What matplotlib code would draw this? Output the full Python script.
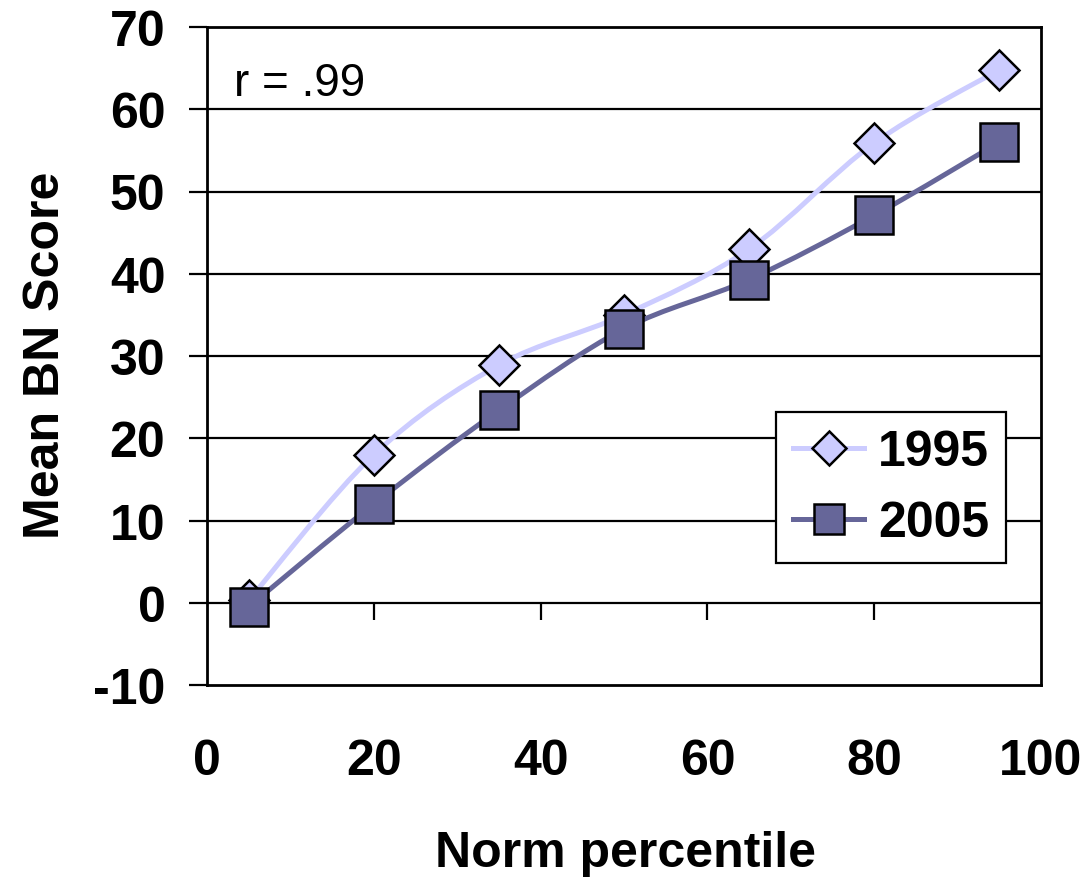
import matplotlib
matplotlib.use("Agg")
import matplotlib.pyplot as plt
from matplotlib.path import Path
from matplotlib.patches import PathPatch
from matplotlib.lines import Line2D
import numpy as np

percentiles = [5, 20, 35, 50, 65, 80, 95]
scores_1995 = [0.3, 18.0, 28.9, 35.0, 43.0, 55.9, 64.8]
scores_2005 = [-0.5, 12.0, 23.4, 33.3, 39.3, 47.1, 56.0]
series_labels = ["1995", "2005"]
x_ticks = [0, 20, 40, 60, 80, 100]
y_ticks = [-10, 0, 10, 20, 30, 40, 50, 60, 70]

plt.rcParams['font.family'] = ['Liberation Sans', 'DejaVu Sans']

fig = plt.figure(figsize=(10.87, 8.78), dpi=100)
ax = fig.add_axes([207/1087, 1-686/878, (1041-207)/1087, (686-28)/878])
ax.set_xlim(0, 100)
ax.set_ylim(-10, 70)


def smooth_path(xs, ys):
    pts = np.column_stack([xs, ys]).astype(float)
    n = len(pts)
    verts = [pts[0]]
    codes = [Path.MOVETO]
    for i in range(n - 1):
        p0 = pts[i - 1] if i > 0 else pts[i]
        p1 = pts[i]
        p2 = pts[i + 1]
        p3 = pts[i + 2] if i + 2 < n else pts[i + 1]
        c1 = p1 + (p2 - p0) / 6.0
        c2 = p2 - (p3 - p1) / 6.0
        verts += [c1, c2, p2]
        codes += [Path.CURVE4] * 3
    return Path(verts, codes)


c1995 = "#CCCCFF"
c2005 = "#666699"

for yv in y_ticks[1:-1]:
    ax.axhline(yv, color="black", lw=1.6, zorder=1)

ax.add_patch(PathPatch(smooth_path(percentiles, scores_1995), fill=False,
                       edgecolor=c1995, lw=3.6, zorder=3, capstyle='round'))
ax.plot(percentiles, scores_1995, linestyle='none', marker='D', ms=20.5,
        mfc=c1995, mec='black', mew=1.8, zorder=4)
ax.add_patch(PathPatch(smooth_path(percentiles, scores_2005), fill=False,
                       edgecolor=c2005, lw=3.6, zorder=5, capstyle='round'))
ax.plot(percentiles, scores_2005, linestyle='none', marker='s', ms=27.5,
        mfc=c2005, mec='black', mew=1.8, zorder=6)

for s in ax.spines.values():
    s.set_linewidth(2)
    s.set_color('black')

FS = 36
ax.set_yticks(y_ticks)
ax.set_yticklabels([str(v) for v in y_ticks], fontsize=FS, fontweight='bold')
ax.tick_params(axis='y', direction='out', length=13, width=1.6, pad=17)
ax.set_xticks(x_ticks)
ax.set_xticklabels([str(v) for v in x_ticks], fontsize=FS, fontweight='bold')
ax.tick_params(axis='x', length=0, pad=38)

sec = ax.secondary_xaxis(10/80)
sec.set_xticks(x_ticks[1:-1])
sec.set_xticklabels([])
sec.tick_params(axis='x', direction='out', length=12, width=1.6)
sec.spines['bottom'].set_visible(False)

ax.set_ylabel("Mean BN Score", fontsize=FS, fontweight='bold')
ax.yaxis.set_label_coords(-0.165, 0.503)
ax.set_xlabel("Norm percentile", fontsize=FS, fontweight='bold')
ax.xaxis.set_label_coords(0.502, -0.22)

ax.text(0.032, 0.915, "r = .99", transform=ax.transAxes, fontsize=33,
        ha='left', va='center')

handles = [
    Line2D([], [], color=c1995, lw=3.6, marker='D', ms=17, mfc=c1995, mec='black', mew=1.8),
    Line2D([], [], color=c2005, lw=3.6, marker='s', ms=22, mfc=c2005, mec='black', mew=1.8),
]
leg = ax.legend(handles, series_labels, loc='upper left',
                bbox_to_anchor=((776-207)/834, 1-(413-28)/658),
                prop={'size': FS, 'weight': 'bold'}, frameon=True, fancybox=False,
                edgecolor='black', framealpha=1, handlelength=1.42, handletextpad=0.28,
                borderpad=0.34, labelspacing=0.5, borderaxespad=0)
leg.get_frame().set_linewidth(1.6)
leg.set_zorder(10)

fig.savefig("out.png", dpi=100, facecolor='white')
